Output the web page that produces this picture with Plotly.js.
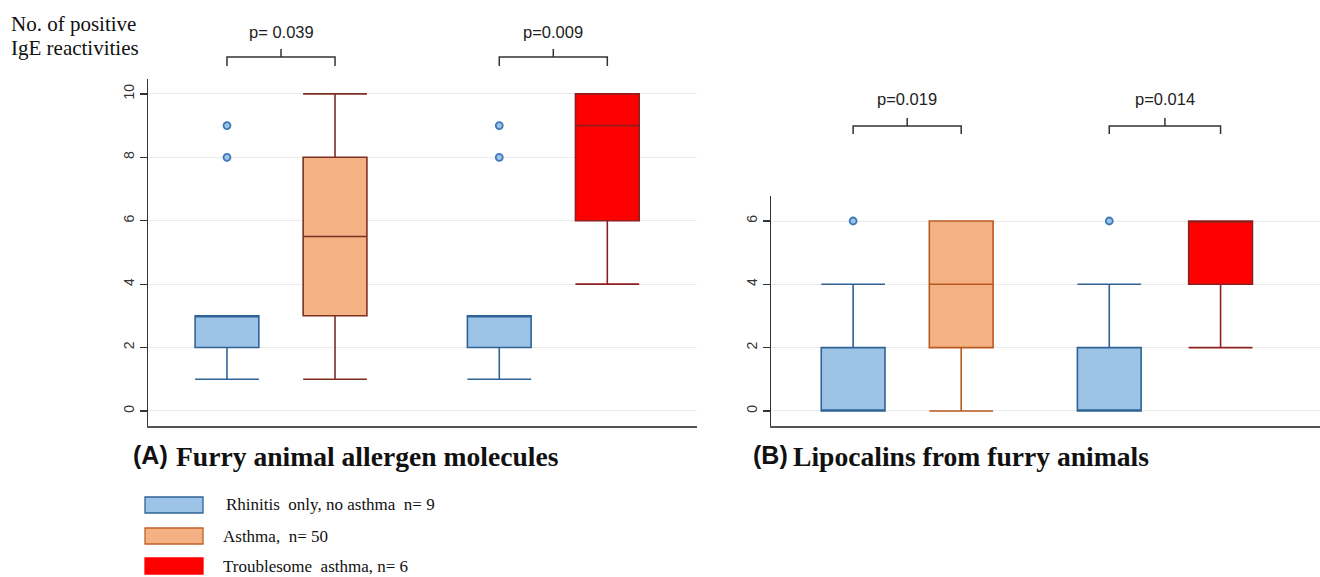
<!DOCTYPE html>
<html>
<head>
<meta charset="utf-8">
<script src="https://cdn.plot.ly/plotly-3.0.1.min.js"></script>
<style>
html,body{margin:0;padding:0;background:#fff;}
#chart{width:1320px;height:577px;}
</style>
</head>
<body>
<div id="chart"></div>
<script>
// ---------- DATA ----------
const seriesNames = ['Rhinitis  only, no asthma  n= 9', 'Asthma,  n= 50', 'Troublesome  asthma, n= 6'];
const boxSeries = [0, 1, 0, 2]; // which series each box belongs to (per panel)

// Panel A: Furry animal allergen molecules
const aLower  = [1, 1, 1, 4];
const aQ1     = [2, 3, 2, 6];
const aMedian = [3, 5.5, 3, 9];
const aQ3     = [3, 8, 3, 10];
const aUpper  = [3, 10, 3, 10];
const aOutlierBox = [0, 0, 2, 2];
const aOutlierVal = [8, 9, 8, 9];
const aPValues = ['p= 0.039', 'p=0.009'];

// Panel B: Lipocalins from furry animals
const bLower  = [0, 0, 0, 2];
const bQ1     = [0, 2, 0, 4];
const bMedian = [0, 4, 0, 6];
const bQ3     = [2, 6, 2, 6];
const bUpper  = [4, 6, 4, 6];
const bOutlierBox = [0, 2];
const bOutlierVal = [6, 6];
const bPValues = ['p=0.019', 'p=0.014'];

const yTicksA = [0, 2, 4, 6, 8, 10];
const yTicksB = [0, 2, 4, 6];
const yTitleLines = ['No. of positive', 'IgE reactivities'];

// ---------- LAYOUT HELPERS ----------
const W = 1320, H = 577;
const posA = [1, 2, 3.52, 4.52];
const posB = [1, 2, 3.37, 4.4];
const fills = ['#9DC3E6', '#F4B183', '#FF0000'];
const linesA = ['#2F6396', '#7E2E22', '#8E1F1F'];
const linesB = ['#2F6396', '#B85A1E', '#8E1F1F'];
const px = v => v / W;
const py = v => (H - v) / H;

const traces = [];
function addPanel(pos, lo, q1, med, q3, up, outBox, outVal, xa, ya, lineCols) {
  for (let i = 0; i < pos.length; i++) {
    const s = boxSeries[i];
    traces.push({
      type: 'box', x: [pos[i]], lowerfence: [lo[i]], q1: [q1[i]], median: [med[i]],
      q3: [q3[i]], upperfence: [up[i]], width: 0.59, whiskerwidth: 1,
      fillcolor: fills[s], line: {color: lineCols[s], width: 1.6},
      boxpoints: false, xaxis: xa, yaxis: ya, showlegend: false, hoverinfo: 'skip',
      name: seriesNames[s]
    });
  }
  traces.push({
    type: 'scatter', mode: 'markers', x: outBox.map(b => pos[b]), y: outVal,
    marker: {size: 7, color: '#9DC3E6', line: {color: '#3F78B8', width: 1.8}},
    xaxis: xa, yaxis: ya, showlegend: false, hoverinfo: 'skip'
  });
}
addPanel(posA, aLower, aQ1, aMedian, aQ3, aUpper, aOutlierBox, aOutlierVal, 'x', 'y', linesA);
addPanel(posB, bLower, bQ1, bMedian, bQ3, bUpper, bOutlierBox, bOutlierVal, 'x2', 'y2', linesB);

const yBase = {
  showgrid: true, gridcolor: '#ebebeb', gridwidth: 1, zeroline: false,
  showline: true, linecolor: '#333', linewidth: 1.5,
  ticks: 'outside', ticklen: 7, tickcolor: '#333', tickwidth: 1.2,
  tickangle: -90, tickfont: {family: 'Liberation Sans, Arial, sans-serif', size: 14, color: '#333'},
  fixedrange: true
};
const xBase = {
  showgrid: false, zeroline: false, showticklabels: false, ticks: '',
  showline: true, linecolor: '#555', linewidth: 2.4, fixedrange: true
};

const shapes = [], annotations = [];
function bracket(xref, x1, x2, yb, yh, yt, text, ytext) {
  const xm = (x1 + x2) / 2;
  shapes.push({
    type: 'path', xref: xref, yref: 'paper',
    path: `M ${x1},${py(yb)} L ${x1},${py(yh)} L ${x2},${py(yh)} L ${x2},${py(yb)} M ${xm},${py(yh)} L ${xm},${py(yt)}`,
    line: {color: '#333', width: 1.5}
  });
  annotations.push({
    xref: xref, yref: 'paper', x: xm, y: py(ytext), text: text, showarrow: false,
    xanchor: 'center', yanchor: 'middle',
    font: {family: 'Liberation Sans, Arial, sans-serif', size: 16.5, color: '#222'}
  });
}
bracket('x', posA[0], posA[1], 66, 57, 49, aPValues[0], 32);
bracket('x', posA[2], posA[3], 66, 57, 49, aPValues[1], 32);
bracket('x2', posB[0], posB[1], 134, 126, 118, bPValues[0], 99);
bracket('x2', posB[2], posB[3], 134, 126, 118, bPValues[1], 99);

// y-axis title (two lines)
[24, 48].forEach((yy, i) => annotations.push({
  xref: 'paper', yref: 'paper', x: px(9), y: py(yy), xanchor: 'left', yanchor: 'middle', align: 'left',
  text: yTitleLines[i], showarrow: false,
  font: {family: 'Liberation Serif, Times New Roman, serif', size: 21, color: '#111'}
}));

// panel titles
function panelTitle(letter, title, xL, xT) {
  annotations.push({xref: 'paper', yref: 'paper', x: px(xL), y: py(455), xanchor: 'left', yanchor: 'middle',
    text: '<b>' + letter + '</b>', showarrow: false,
    font: {family: 'Liberation Sans, Arial, sans-serif', size: 25, color: '#111'}});
  annotations.push({xref: 'paper', yref: 'paper', x: px(xT), y: py(456), xanchor: 'left', yanchor: 'middle',
    text: '<b>' + title + '</b>', showarrow: false,
    font: {family: 'Liberation Serif, Times New Roman, serif', size: 27.6, color: '#111'}});
}
panelTitle('(A)', 'Furry animal allergen molecules', 131, 174);
panelTitle('(B)', 'Lipocalins from furry animals', 751, 791);

// legend
const legendRows = [505, 536, 566];
const legendBorders = ['#2F6396', '#C0622A', '#FF0000'];
for (let i = 0; i < 3; i++) {
  shapes.push({type: 'rect', xref: 'paper', yref: 'paper',
    x0: px(145), x1: px(203), y0: py(legendRows[i] + 8), y1: py(legendRows[i] - 8),
    fillcolor: fills[i], line: {color: legendBorders[i], width: 1.3}});
  annotations.push({xref: 'paper', yref: 'paper', x: px(i === 0 ? 224 : 221), y: py(legendRows[i]),
    xanchor: 'left', yanchor: 'middle', text: seriesNames[i].replace(/  /g, '&nbsp; '), showarrow: false,
    font: {family: 'Liberation Serif, Times New Roman, serif', size: 17, color: '#111'}});
}

const layout = {
  width: W, height: H, margin: {l: 0, r: 0, t: 0, b: 0},
  paper_bgcolor: '#fff', plot_bgcolor: '#fff', showlegend: false,
  xaxis: Object.assign({}, xBase, {domain: [px(148), px(697)], range: [0.269, 5.35], anchor: 'y'}),
  yaxis: Object.assign({}, yBase, {domain: [py(425.5), py(79)], range: [-0.46, 10.47], tickvals: yTicksA, anchor: 'x'}),
  xaxis2: Object.assign({}, xBase, {domain: [px(771), 1], range: [0.24, 5.32], anchor: 'y2'}),
  yaxis2: Object.assign({}, yBase, {domain: [py(425.5), py(196)], range: [-0.46, 6.79], tickvals: yTicksB, anchor: 'x2'}),
  shapes: shapes, annotations: annotations
};

Plotly.newPlot('chart', traces, layout, {displayModeBar: false, staticPlot: true});
</script>
</body>
</html>
